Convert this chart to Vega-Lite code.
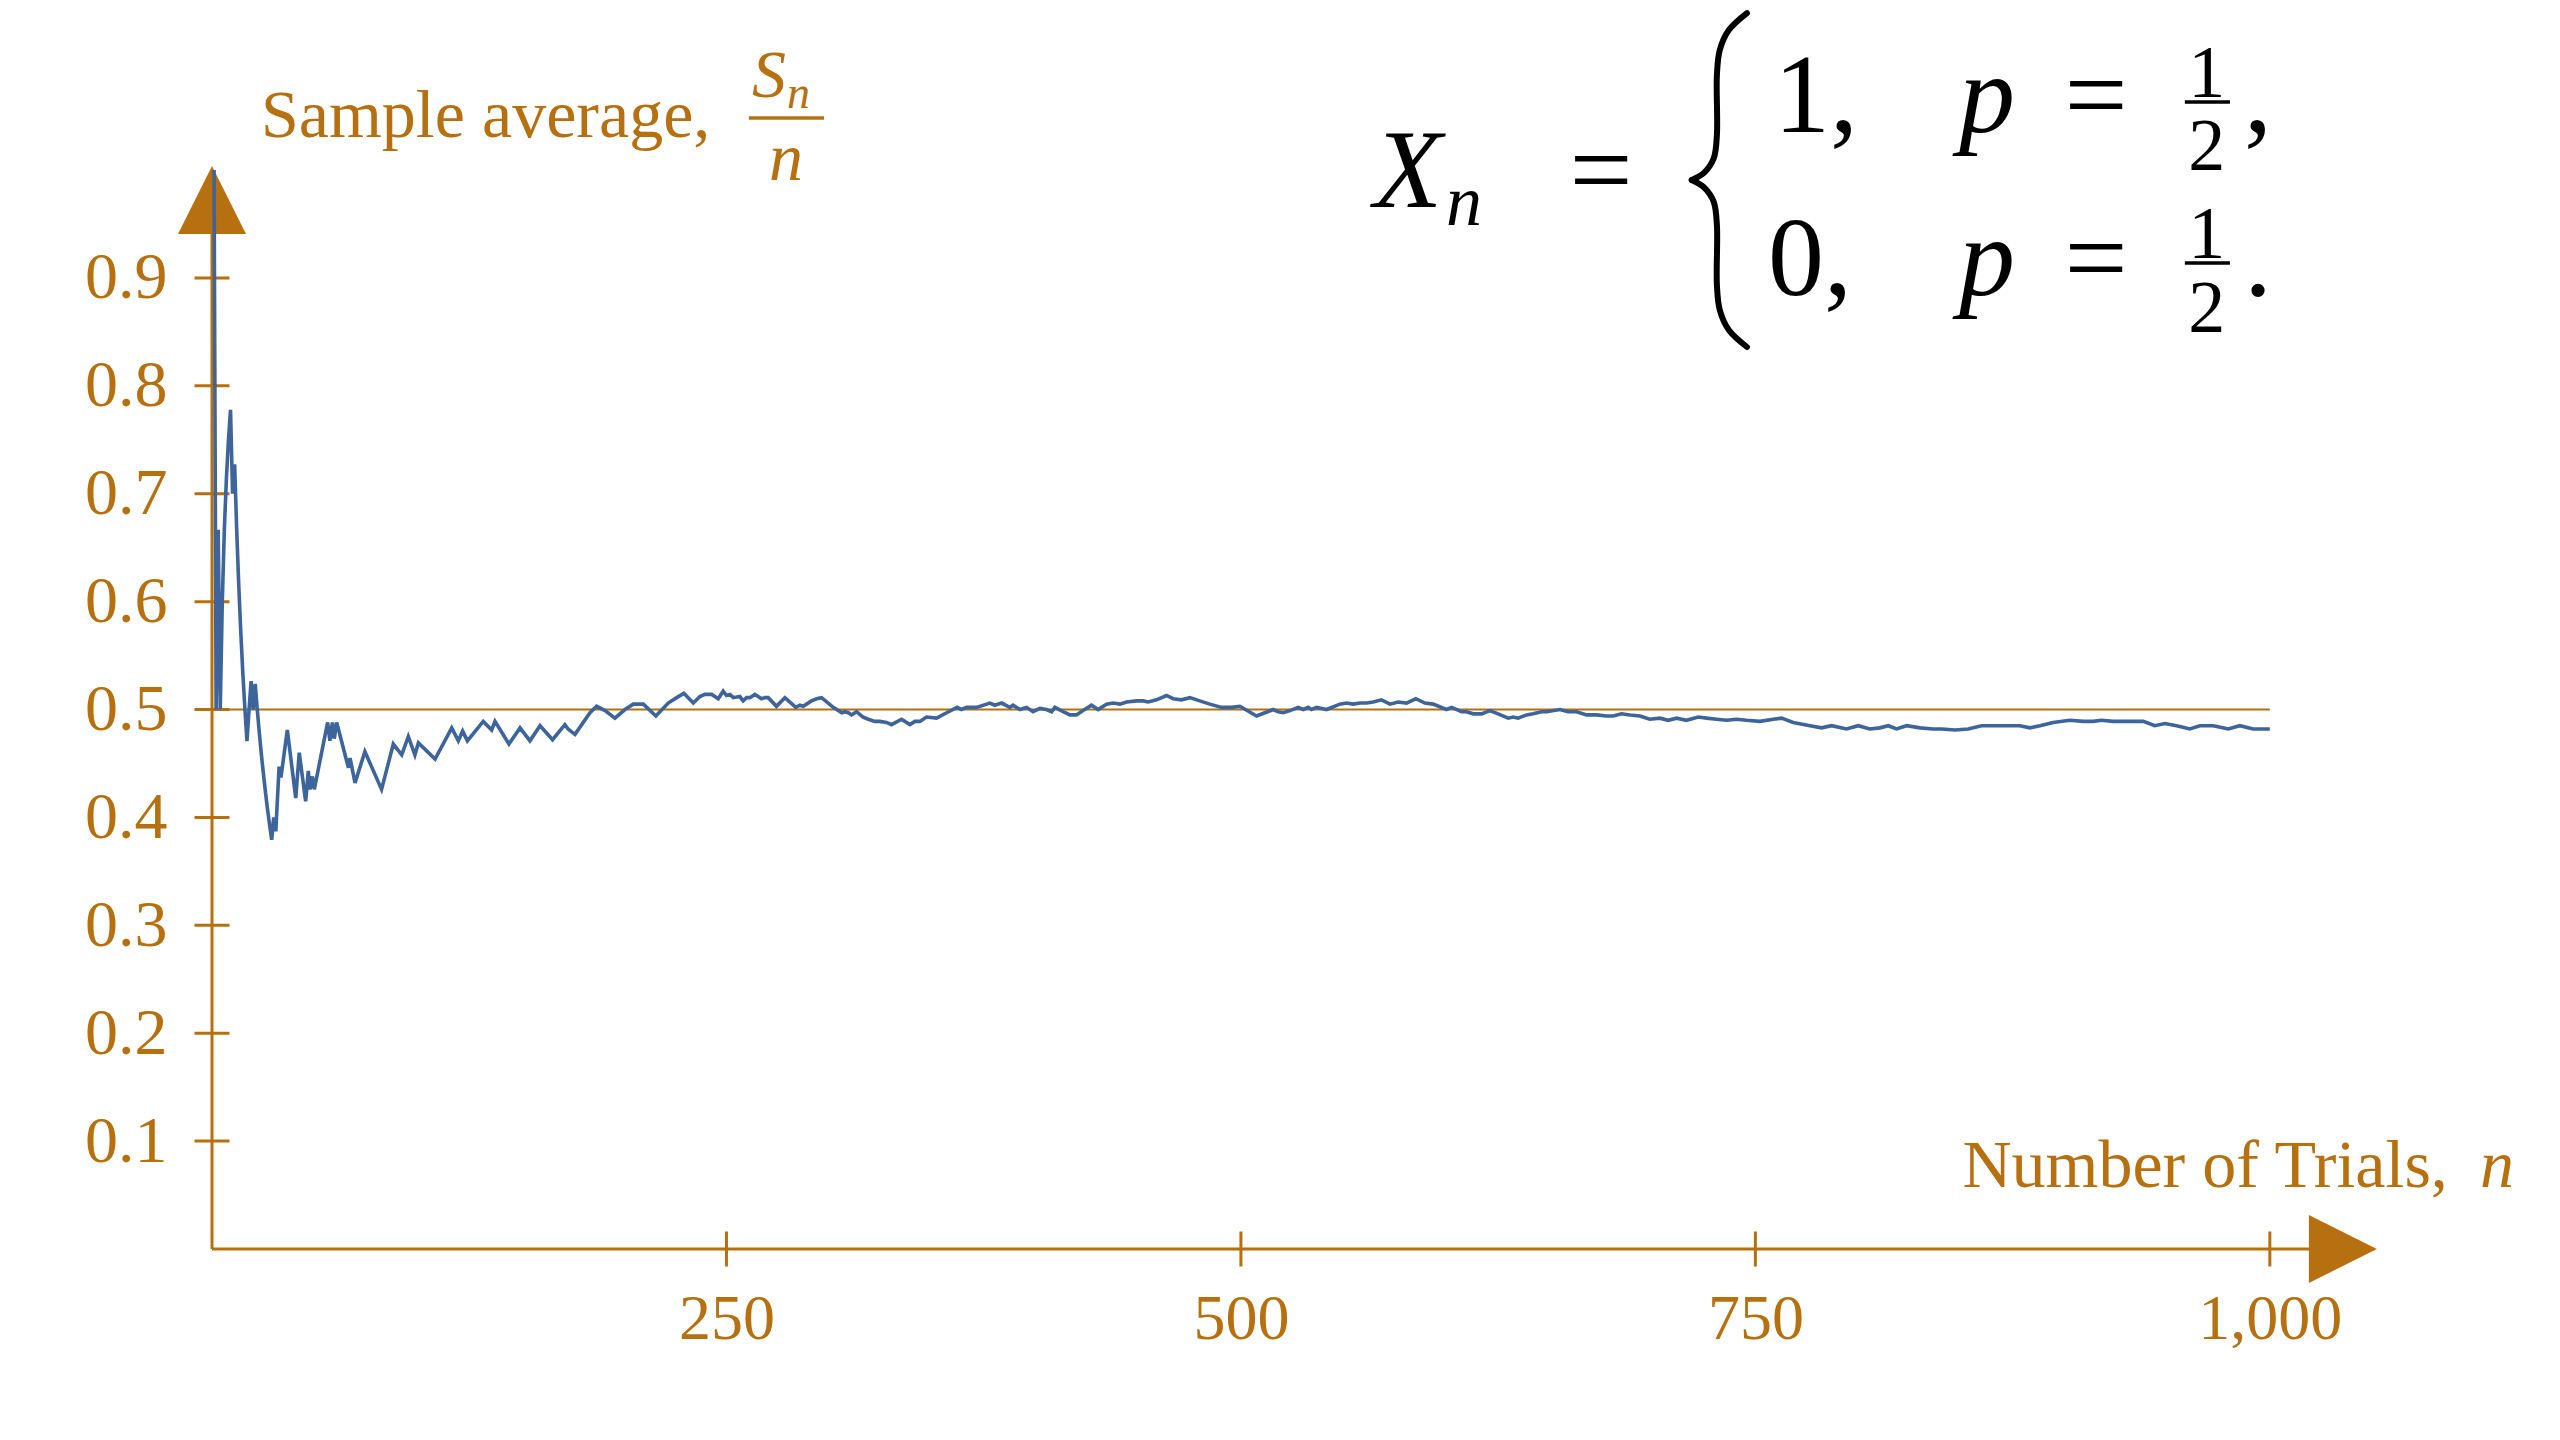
{
  "$schema": "https://vega.github.io/schema/vega-lite/v6.json",
  "width": 2348,
  "height": 1249,
  "autosize": {"type": "none"},
  "padding": {"left": 212, "top": 0, "right": 0, "bottom": 191},
  "background": "white",
  "config": {
    "view": {"stroke": null},
    "font": "Liberation Serif",
    "text": {"font": "Liberation Serif", "baseline": "alphabetic"}
  },
  "datasets": {
    "avg": [
      {"n": 1, "v": 1}, {"n": 2, "v": 0.5}, {"n": 3, "v": 0.6667}, {"n": 4, "v": 0.5},
      {"n": 5, "v": 0.6}, {"n": 6, "v": 0.6667}, {"n": 7, "v": 0.7143}, {"n": 8, "v": 0.75},
      {"n": 9, "v": 0.7778}, {"n": 10, "v": 0.7}, {"n": 11, "v": 0.7273}, {"n": 12, "v": 0.6667},
      {"n": 13, "v": 0.6154}, {"n": 14, "v": 0.5714}, {"n": 15, "v": 0.5333}, {"n": 16, "v": 0.5},
      {"n": 17, "v": 0.4706}, {"n": 18, "v": 0.5}, {"n": 19, "v": 0.5263}, {"n": 20, "v": 0.5},
      {"n": 21, "v": 0.5238}, {"n": 22, "v": 0.5}, {"n": 23, "v": 0.4783}, {"n": 24, "v": 0.4583},
      {"n": 25, "v": 0.44}, {"n": 26, "v": 0.4231}, {"n": 27, "v": 0.4074}, {"n": 28, "v": 0.3929},
      {"n": 29, "v": 0.3793}, {"n": 30, "v": 0.4}, {"n": 31, "v": 0.3871}, {"n": 32.6, "v": 0.447},
      {"n": 33.5, "v": 0.437}, {"n": 36.6, "v": 0.481}, {"n": 40.7, "v": 0.418}, {"n": 42.4, "v": 0.46},
      {"n": 45.5, "v": 0.415}, {"n": 46.8, "v": 0.443}, {"n": 47.6, "v": 0.426}, {"n": 48.8, "v": 0.438},
      {"n": 49.7, "v": 0.426}, {"n": 56.2, "v": 0.488}, {"n": 57.3, "v": 0.471}, {"n": 58.5, "v": 0.488},
      {"n": 59.4, "v": 0.473}, {"n": 60.6, "v": 0.488}, {"n": 66.3, "v": 0.446}, {"n": 67.1, "v": 0.455},
      {"n": 69.5, "v": 0.432}, {"n": 74.3, "v": 0.461}, {"n": 82.4, "v": 0.426}, {"n": 88.1, "v": 0.468},
      {"n": 92.2, "v": 0.458}, {"n": 95.4, "v": 0.475}, {"n": 98.6, "v": 0.458}, {"n": 100.3, "v": 0.469},
      {"n": 108.4, "v": 0.454}, {"n": 116.5, "v": 0.483}, {"n": 119.7, "v": 0.471}, {"n": 121.8, "v": 0.48},
      {"n": 124.1, "v": 0.471}, {"n": 131.8, "v": 0.489}, {"n": 135.9, "v": 0.481}, {"n": 137.5, "v": 0.489},
      {"n": 144.3, "v": 0.468}, {"n": 149.7, "v": 0.483}, {"n": 154.5, "v": 0.471}, {"n": 159.4, "v": 0.485},
      {"n": 165.5, "v": 0.472}, {"n": 171.5, "v": 0.486}, {"n": 173, "v": 0.482}, {"n": 176.4, "v": 0.477},
      {"n": 183.7, "v": 0.497}, {"n": 186.9, "v": 0.503}, {"n": 191, "v": 0.499}, {"n": 195.8, "v": 0.492},
      {"n": 200.7, "v": 0.5}, {"n": 204.7, "v": 0.505}, {"n": 209.6, "v": 0.505}, {"n": 215.7, "v": 0.494},
      {"n": 221.7, "v": 0.506}, {"n": 225.8, "v": 0.511}, {"n": 229.3, "v": 0.515}, {"n": 233.9, "v": 0.506},
      {"n": 237.1, "v": 0.512}, {"n": 239.5, "v": 0.514}, {"n": 242.8, "v": 0.514}, {"n": 246, "v": 0.51},
      {"n": 248.4, "v": 0.517}, {"n": 250, "v": 0.513}, {"n": 251.7, "v": 0.514}, {"n": 253.3, "v": 0.511},
      {"n": 256.5, "v": 0.512}, {"n": 258.1, "v": 0.508}, {"n": 259.8, "v": 0.511}, {"n": 261.4, "v": 0.511},
      {"n": 263.8, "v": 0.514}, {"n": 265.4, "v": 0.512}, {"n": 267, "v": 0.51}, {"n": 268.7, "v": 0.511},
      {"n": 270.3, "v": 0.511}, {"n": 274.3, "v": 0.503}, {"n": 278.4, "v": 0.511}, {"n": 283.7, "v": 0.502},
      {"n": 285.7, "v": 0.504}, {"n": 287.3, "v": 0.503}, {"n": 291.3, "v": 0.508}, {"n": 293.8, "v": 0.51},
      {"n": 296.2, "v": 0.511}, {"n": 301.9, "v": 0.502}, {"n": 306, "v": 0.497}, {"n": 307.5, "v": 0.498},
      {"n": 309.2, "v": 0.497}, {"n": 310.8, "v": 0.495}, {"n": 313.2, "v": 0.498}, {"n": 316.4, "v": 0.493},
      {"n": 318.9, "v": 0.491}, {"n": 322.1, "v": 0.489}, {"n": 324.5, "v": 0.489}, {"n": 327.8, "v": 0.488},
      {"n": 330.2, "v": 0.486}, {"n": 335.1, "v": 0.491}, {"n": 339.1, "v": 0.486}, {"n": 341.6, "v": 0.489},
      {"n": 344, "v": 0.489}, {"n": 347.2, "v": 0.493}, {"n": 352.1, "v": 0.492}, {"n": 357, "v": 0.497},
      {"n": 362.1, "v": 0.502}, {"n": 364.2, "v": 0.5}, {"n": 366.7, "v": 0.502}, {"n": 371.5, "v": 0.502},
      {"n": 378, "v": 0.506}, {"n": 380.4, "v": 0.504}, {"n": 383.7, "v": 0.506}, {"n": 387.7, "v": 0.502},
      {"n": 389.3, "v": 0.504}, {"n": 392.6, "v": 0.5}, {"n": 395.8, "v": 0.502}, {"n": 399, "v": 0.498},
      {"n": 402.3, "v": 0.501}, {"n": 405.5, "v": 0.5}, {"n": 408, "v": 0.498}, {"n": 409.6, "v": 0.502},
      {"n": 413.6, "v": 0.498}, {"n": 416.9, "v": 0.495}, {"n": 420.1, "v": 0.495}, {"n": 423.3, "v": 0.499},
      {"n": 427.4, "v": 0.504}, {"n": 430.6, "v": 0.5}, {"n": 434.7, "v": 0.505}, {"n": 437.9, "v": 0.506},
      {"n": 441.2, "v": 0.505}, {"n": 444.4, "v": 0.507}, {"n": 449.3, "v": 0.508}, {"n": 452.5, "v": 0.508},
      {"n": 454.9, "v": 0.507}, {"n": 459, "v": 0.509}, {"n": 463.8, "v": 0.513}, {"n": 467.1, "v": 0.51},
      {"n": 471.1, "v": 0.509}, {"n": 475.2, "v": 0.511}, {"n": 480, "v": 0.508}, {"n": 484.9, "v": 0.505},
      {"n": 490.6, "v": 0.502}, {"n": 493, "v": 0.502}, {"n": 495.4, "v": 0.502}, {"n": 499.5, "v": 0.503},
      {"n": 507.6, "v": 0.494}, {"n": 511.6, "v": 0.497}, {"n": 515.7, "v": 0.5}, {"n": 518.1, "v": 0.498},
      {"n": 520.6, "v": 0.497}, {"n": 523.8, "v": 0.499}, {"n": 527.8, "v": 0.502}, {"n": 530.3, "v": 0.5},
      {"n": 532.7, "v": 0.502}, {"n": 534.3, "v": 0.5}, {"n": 536.8, "v": 0.502}, {"n": 541.6, "v": 0.5},
      {"n": 548.1, "v": 0.505}, {"n": 551.3, "v": 0.506}, {"n": 554.6, "v": 0.505}, {"n": 557.8, "v": 0.506},
      {"n": 561, "v": 0.506}, {"n": 564.3, "v": 0.507}, {"n": 568.3, "v": 0.509}, {"n": 572.4, "v": 0.505},
      {"n": 576.4, "v": 0.507}, {"n": 580.5, "v": 0.506}, {"n": 585, "v": 0.51}, {"n": 589.4, "v": 0.506},
      {"n": 593.4, "v": 0.505}, {"n": 599.9, "v": 0.5}, {"n": 602.4, "v": 0.502}, {"n": 607.2, "v": 0.498},
      {"n": 609.6, "v": 0.498}, {"n": 612.9, "v": 0.496}, {"n": 616.9, "v": 0.496}, {"n": 621, "v": 0.499},
      {"n": 625, "v": 0.496}, {"n": 629.9, "v": 0.492}, {"n": 632.3, "v": 0.493}, {"n": 634.7, "v": 0.492},
      {"n": 638.8, "v": 0.495}, {"n": 642, "v": 0.496}, {"n": 646.1, "v": 0.498}, {"n": 648.5, "v": 0.498},
      {"n": 655, "v": 0.5}, {"n": 659, "v": 0.498}, {"n": 663.1, "v": 0.498}, {"n": 668, "v": 0.495},
      {"n": 672.8, "v": 0.495}, {"n": 677.7, "v": 0.494}, {"n": 680.9, "v": 0.494}, {"n": 685, "v": 0.496},
      {"n": 689, "v": 0.495}, {"n": 693.9, "v": 0.494}, {"n": 698.7, "v": 0.491}, {"n": 703.6, "v": 0.492},
      {"n": 707.6, "v": 0.49}, {"n": 711.7, "v": 0.492}, {"n": 716.5, "v": 0.49}, {"n": 722.2, "v": 0.493},
      {"n": 726.3, "v": 0.492}, {"n": 731.1, "v": 0.491}, {"n": 736, "v": 0.49}, {"n": 740.8, "v": 0.491},
      {"n": 745.7, "v": 0.49}, {"n": 752.2, "v": 0.489}, {"n": 758.7, "v": 0.491}, {"n": 762.7, "v": 0.492},
      {"n": 768.4, "v": 0.488}, {"n": 776.5, "v": 0.485}, {"n": 782.2, "v": 0.483}, {"n": 787, "v": 0.485},
      {"n": 794.3, "v": 0.482}, {"n": 800, "v": 0.485}, {"n": 805.6, "v": 0.482}, {"n": 810.5, "v": 0.483},
      {"n": 814.6, "v": 0.485}, {"n": 818.6, "v": 0.482}, {"n": 823.5, "v": 0.485}, {"n": 830, "v": 0.483},
      {"n": 836.4, "v": 0.482}, {"n": 840.5, "v": 0.482}, {"n": 847, "v": 0.481}, {"n": 853.4, "v": 0.482},
      {"n": 859.9, "v": 0.485}, {"n": 865.6, "v": 0.485}, {"n": 872.1, "v": 0.485}, {"n": 878.5, "v": 0.485},
      {"n": 883.4, "v": 0.483}, {"n": 888.3, "v": 0.485}, {"n": 894.7, "v": 0.488}, {"n": 902.8, "v": 0.49},
      {"n": 909.3, "v": 0.489}, {"n": 914.2, "v": 0.489}, {"n": 918.2, "v": 0.49}, {"n": 923.9, "v": 0.489},
      {"n": 928.7, "v": 0.489}, {"n": 933.6, "v": 0.489}, {"n": 938.5, "v": 0.489}, {"n": 944.1, "v": 0.485},
      {"n": 949, "v": 0.487}, {"n": 954.7, "v": 0.485}, {"n": 961.1, "v": 0.482}, {"n": 966, "v": 0.485},
      {"n": 972.5, "v": 0.485}, {"n": 979.8, "v": 0.482}, {"n": 985.4, "v": 0.485}, {"n": 991.9, "v": 0.482},
      {"n": 1000, "v": 0.482}
    ],
    "brace": [
      {"part": "top", "i": 1, "n": 745.9, "v": 1.1455},
      {"part": "top", "i": 2, "n": 737.1, "v": 1.1297},
      {"part": "top", "i": 3, "n": 732.7, "v": 1.1112},
      {"part": "top", "i": 4, "n": 731.3, "v": 1.088},
      {"part": "top", "i": 5, "n": 731.3, "v": 1.0324},
      {"part": "top", "i": 6, "n": 729.8, "v": 1.0111},
      {"part": "top", "i": 7, "n": 725.4, "v": 0.9981},
      {"part": "top", "i": 8, "n": 719.1, "v": 0.9907},
      {"part": "bottom", "i": 1, "n": 719.1, "v": 0.9907},
      {"part": "bottom", "i": 2, "n": 725.4, "v": 0.9833},
      {"part": "bottom", "i": 3, "n": 729.8, "v": 0.9703},
      {"part": "bottom", "i": 4, "n": 731.3, "v": 0.949},
      {"part": "bottom", "i": 5, "n": 731.3, "v": 0.8934},
      {"part": "bottom", "i": 6, "n": 732.7, "v": 0.8703},
      {"part": "bottom", "i": 7, "n": 737.1, "v": 0.8517},
      {"part": "bottom", "i": 8, "n": 745.9, "v": 0.836}
    ]
  },
  "layer": [
    {
      "data": {"values": [
        {"n": 0, "n2": 0, "v": 0, "v2": 0.97},
        {"n": 0, "n2": 1030, "v": 0, "v2": 0}
      ]},
      "mark": {"type": "rule", "color": "#b7700f", "strokeWidth": 3},
      "encoding": {
        "x": {"field": "n", "type": "quantitative", "scale": {"domain": [0, 1141], "nice": false},
          "axis": {"values": [250, 500, 750, 1000], "format": ",.0f", "title": null, "domain": false,
            "ticks": false, "tickSize": 0, "grid": false, "labelFont": "Liberation Serif",
            "labelFontSize": 64, "labelColor": "#b7700f", "labelPadding": 38}},
        "x2": {"field": "n2"},
        "y": {"field": "v", "type": "quantitative", "scale": {"domain": [0, 1.1576], "nice": false},
          "axis": {"values": [0.1, 0.2, 0.3, 0.4, 0.5, 0.6, 0.7, 0.8, 0.9], "format": ".1f", "title": null,
            "domain": false, "ticks": false, "tickSize": 0, "grid": false, "labelFont": "Liberation Serif",
            "labelFontSize": 66, "labelColor": "#b7700f", "labelPadding": 45}},
        "y2": {"field": "v2"}
      }
    },
    {
      "data": {"values": [{"n": 0, "v": 0.9722}]},
      "mark": {"type": "point", "shape": "M0,-1L1,1L-1,1Z", "filled": true, "size": 4624, "color": "#b7700f", "opacity": 1},
      "encoding": {
        "x": {"field": "n", "type": "quantitative", "scale": {"domain": [0, 1141]}},
        "y": {"field": "v", "type": "quantitative", "scale": {"domain": [0, 1.1576]}}
      }
    },
    {
      "data": {"values": [{"n": 1035.5, "v": 0}]},
      "mark": {"type": "point", "shape": "M1,0L-1,-1L-1,1Z", "filled": true, "size": 4624, "color": "#b7700f", "opacity": 1},
      "encoding": {
        "x": {"field": "n", "type": "quantitative", "scale": {"domain": [0, 1141]}},
        "y": {"field": "v", "type": "quantitative", "scale": {"domain": [0, 1.1576]}}
      }
    },
    {
      "data": {"values": [
        {"n": 0, "v": 0.1}, {"n": 0, "v": 0.2}, {"n": 0, "v": 0.3}, {"n": 0, "v": 0.4}, {"n": 0, "v": 0.5},
        {"n": 0, "v": 0.6}, {"n": 0, "v": 0.7}, {"n": 0, "v": 0.8}, {"n": 0, "v": 0.9}
      ]},
      "mark": {"type": "tick", "orient": "horizontal", "size": 35, "thickness": 3, "color": "#b7700f", "opacity": 1},
      "encoding": {
        "x": {"field": "n", "type": "quantitative", "scale": {"domain": [0, 1141]}},
        "y": {"field": "v", "type": "quantitative", "scale": {"domain": [0, 1.1576]}}
      }
    },
    {
      "data": {"values": [{"n": 250, "v": 0}, {"n": 500, "v": 0}, {"n": 750, "v": 0}, {"n": 1000, "v": 0}]},
      "mark": {"type": "tick", "orient": "vertical", "size": 35, "thickness": 3, "color": "#b7700f", "opacity": 1},
      "encoding": {
        "x": {"field": "n", "type": "quantitative", "scale": {"domain": [0, 1141]}},
        "y": {"field": "v", "type": "quantitative", "scale": {"domain": [0, 1.1576]}}
      }
    },
    {
      "data": {"values": [{"n": 0, "n2": 1000, "v": 0.5}]},
      "mark": {"type": "rule", "color": "#b7700f", "strokeWidth": 2},
      "encoding": {
        "x": {"field": "n", "type": "quantitative", "scale": {"domain": [0, 1141]}},
        "x2": {"field": "n2"},
        "y": {"field": "v", "type": "quantitative", "scale": {"domain": [0, 1.1576]}}
      }
    },
    {
      "data": {"name": "avg"},
      "mark": {"type": "line", "color": "#3d659c", "strokeWidth": 3.6, "strokeJoin": "miter"},
      "encoding": {
        "x": {"field": "n", "type": "quantitative", "scale": {"domain": [0, 1141]}},
        "y": {"field": "v", "type": "quantitative", "scale": {"domain": [0, 1.1576]}}
      }
    },
    {
      "data": {"name": "brace"},
      "mark": {"type": "line", "color": "black", "strokeWidth": 6, "strokeCap": "round", "interpolate": "catmull-rom"},
      "encoding": {
        "x": {"field": "n", "type": "quantitative", "scale": {"domain": [0, 1141]}},
        "y": {"field": "v", "type": "quantitative", "scale": {"domain": [0, 1.1576]}},
        "detail": {"field": "part"},
        "order": {"field": "i"}
      }
    },
    {
      "data": {"values": [
        {"n": 260.9, "n2": 297.4, "v": 1.0482, "ink": "orange"},
        {"n": 958.7, "n2": 980.6, "v": 1.063, "ink": "black"},
        {"n": 958.7, "n2": 980.6, "v": 0.9138, "ink": "black"}
      ]},
      "mark": {"type": "rule", "strokeWidth": 3.5},
      "encoding": {
        "x": {"field": "n", "type": "quantitative", "scale": {"domain": [0, 1141]}},
        "x2": {"field": "n2"},
        "y": {"field": "v", "type": "quantitative", "scale": {"domain": [0, 1.1576]}},
        "color": {"field": "ink", "type": "nominal", "scale": {"domain": ["orange", "black"], "range": ["#b7700f", "black"]}, "legend": null}
      }
    },
    {
      "data": {"values": [{"n": 23.8, "v": 1.0306, "label": "Sample average,"}]},
      "mark": {"type": "text", "align": "left", "fontSize": 68, "color": "#b7700f"},
      "encoding": {
        "x": {"field": "n", "type": "quantitative", "scale": {"domain": [0, 1141]}},
        "y": {"field": "v", "type": "quantitative", "scale": {"domain": [0, 1.1576]}},
        "text": {"field": "label"}
      }
    },
    {
      "data": {"values": [{"n": 1086.5, "v": 0.0575, "label": "Number of Trials,"}]},
      "mark": {"type": "text", "align": "right", "fontSize": 68, "color": "#b7700f"},
      "encoding": {
        "x": {"field": "n", "type": "quantitative", "scale": {"domain": [0, 1141]}},
        "y": {"field": "v", "type": "quantitative", "scale": {"domain": [0, 1.1576]}},
        "text": {"field": "label"}
      }
    },
    {
      "data": {"values": [{"n": 262.4, "v": 1.0677, "label": "S"}]},
      "mark": {"type": "text", "align": "left", "fontSize": 68, "fontStyle": "italic", "color": "#b7700f"},
      "encoding": {
        "x": {"field": "n", "type": "quantitative", "scale": {"domain": [0, 1141]}},
        "y": {"field": "v", "type": "quantitative", "scale": {"domain": [0, 1.1576]}},
        "text": {"field": "label"}
      }
    },
    {
      "data": {"values": [{"n": 279.4, "v": 1.0575, "label": "n"}]},
      "mark": {"type": "text", "align": "left", "fontSize": 46, "fontStyle": "italic", "color": "#b7700f"},
      "encoding": {
        "x": {"field": "n", "type": "quantitative", "scale": {"domain": [0, 1141]}},
        "y": {"field": "v", "type": "quantitative", "scale": {"domain": [0, 1.1576]}},
        "text": {"field": "label"}
      }
    },
    {
      "data": {"values": [{"n": 278.9, "v": 0.9907, "label": "n"}]},
      "mark": {"type": "text", "align": "center", "fontSize": 68, "fontStyle": "italic", "color": "#b7700f"},
      "encoding": {
        "x": {"field": "n", "type": "quantitative", "scale": {"domain": [0, 1141]}},
        "y": {"field": "v", "type": "quantitative", "scale": {"domain": [0, 1.1576]}},
        "text": {"field": "label"}
      }
    },
    {
      "data": {"values": [{"n": 1118.6, "v": 0.0575, "label": "n"}]},
      "mark": {"type": "text", "align": "right", "fontSize": 68, "fontStyle": "italic", "color": "#b7700f"},
      "encoding": {
        "x": {"field": "n", "type": "quantitative", "scale": {"domain": [0, 1141]}},
        "y": {"field": "v", "type": "quantitative", "scale": {"domain": [0, 1.1576]}},
        "text": {"field": "label"}
      }
    },
    {
      "data": {"values": [
        {"n": 564.6, "v": 0.9657, "label": "X"},
        {"n": 848.9, "v": 1.0352, "label": "p"},
        {"n": 848.9, "v": 0.8842, "label": "p"}
      ]},
      "mark": {"type": "text", "align": "left", "fontSize": 112, "fontStyle": "italic", "color": "black"},
      "encoding": {
        "x": {"field": "n", "type": "quantitative", "scale": {"domain": [0, 1141]}},
        "y": {"field": "v", "type": "quantitative", "scale": {"domain": [0, 1.1576]}},
        "text": {"field": "label"}
      }
    },
    {
      "data": {"values": [{"n": 599.6, "v": 0.949, "label": "n"}]},
      "mark": {"type": "text", "align": "left", "fontSize": 72, "fontStyle": "italic", "color": "black"},
      "encoding": {
        "x": {"field": "n", "type": "quantitative", "scale": {"domain": [0, 1141]}},
        "y": {"field": "v", "type": "quantitative", "scale": {"domain": [0, 1.1576]}},
        "text": {"field": "label"}
      }
    },
    {
      "data": {"values": [
        {"n": 675, "v": 0.9657, "label": "="},
        {"n": 915.5, "v": 1.0352, "label": "="},
        {"n": 915.5, "v": 0.8842, "label": "="}
      ]},
      "mark": {"type": "text", "align": "center", "fontSize": 112, "color": "black"},
      "encoding": {
        "x": {"field": "n", "type": "quantitative", "scale": {"domain": [0, 1141]}},
        "y": {"field": "v", "type": "quantitative", "scale": {"domain": [0, 1.1576]}},
        "text": {"field": "label"}
      }
    },
    {
      "data": {"values": [
        {"n": 759, "v": 1.0352, "label": "1,"},
        {"n": 756.1, "v": 0.8842, "label": "0,"},
        {"n": 987.4, "v": 1.0352, "label": ","},
        {"n": 987.4, "v": 0.8842, "label": "."}
      ]},
      "mark": {"type": "text", "align": "left", "fontSize": 112, "color": "black"},
      "encoding": {
        "x": {"field": "n", "type": "quantitative", "scale": {"domain": [0, 1141]}},
        "y": {"field": "v", "type": "quantitative", "scale": {"domain": [0, 1.1576]}},
        "text": {"field": "label"}
      }
    },
    {
      "data": {"values": [
        {"n": 969.4, "v": 1.0677, "label": "1"},
        {"n": 969.4, "v": 1.0, "label": "2"},
        {"n": 969.4, "v": 0.9184, "label": "1"},
        {"n": 969.4, "v": 0.8499, "label": "2"}
      ]},
      "mark": {"type": "text", "align": "center", "fontSize": 74, "color": "black"},
      "encoding": {
        "x": {"field": "n", "type": "quantitative", "scale": {"domain": [0, 1141]}},
        "y": {"field": "v", "type": "quantitative", "scale": {"domain": [0, 1.1576]}},
        "text": {"field": "label"}
      }
    }
  ]
}
